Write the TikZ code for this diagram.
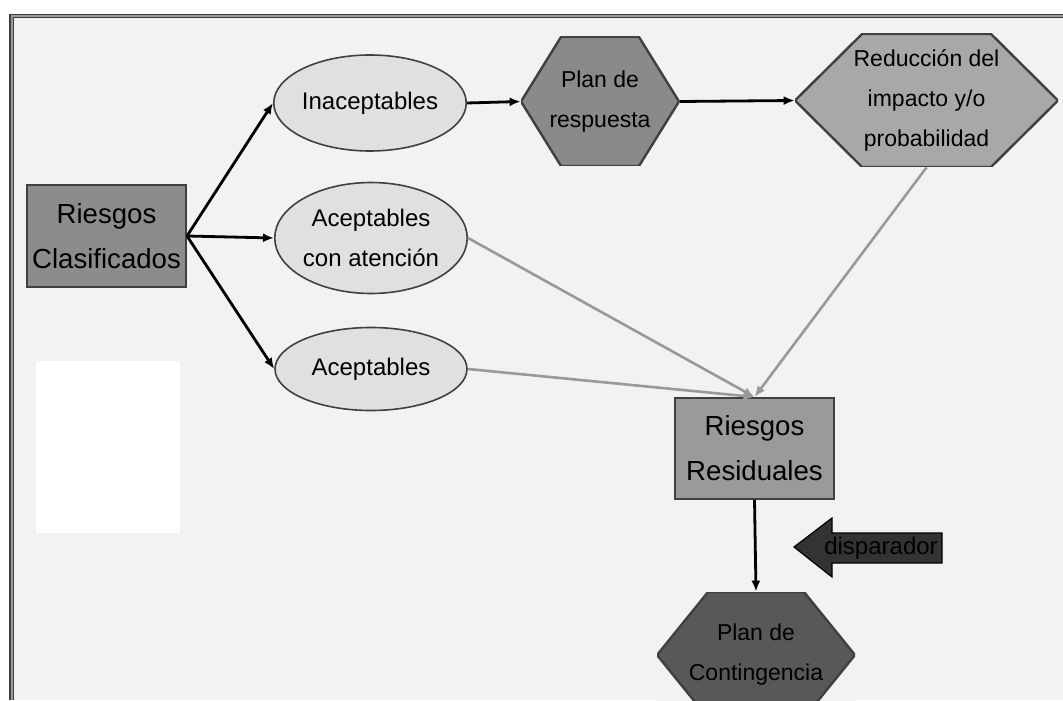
\documentclass[tikz,border=0pt]{standalone}
\usepackage{fontspec}
\setmainfont{Liberation Sans}
\usetikzlibrary{arrows.meta,shapes.geometric}

\definecolor{bgfill}{HTML}{F2F2F2}
\definecolor{edgecol}{HTML}{404040}
\definecolor{ovalfill}{HTML}{E0E0E0}
\definecolor{clasfill}{HTML}{8C8C8C}
\definecolor{planfill}{HTML}{8A8A8A}
\definecolor{reducfill}{HTML}{A8A8A8}
\definecolor{residfill}{HTML}{9A9A9A}
\definecolor{contfill}{HTML}{585858}
\definecolor{trigfill}{HTML}{333333}
\definecolor{linegray}{HTML}{999999}

\begin{document}
\begin{tikzpicture}[
  x=0.5pt,y=-0.5pt,
  box/.style={draw=edgecol,line width=1pt,minimum width=79.5pt,minimum height=51pt,
    inner sep=2pt,align=center,font=\fontsize{13.8}{22.5}\selectfont},
  oval/.style={ellipse,draw=edgecol,line width=0.8pt,fill=ovalfill,minimum width=96pt,
    inner sep=0pt,align=center,font=\fontsize{12}{20}\selectfont},
  hexa/.style 2 args={fill=bgfill,inner sep=0pt,align=center,font=\fontsize{11.5}{20}\selectfont,
    path picture={\filldraw[draw=edgecol,line width=1.2pt,fill=#2]
      (path picture bounding box.west)
      -- ([xshift=#1]path picture bounding box.north west)
      -- ([xshift=-#1]path picture bounding box.north east)
      -- (path picture bounding box.east)
      -- ([xshift=-#1]path picture bounding box.south east)
      -- ([xshift=#1]path picture bounding box.south west) -- cycle;}},
  link/.style={-{Latex[length=5.5pt,width=4.5pt]},line width=1.4pt},
  faint/.style={-{Latex[length=5.5pt,width=4.5pt]},line width=1.3pt,draw=linegray}
]
  \useasboundingbox (0,0) rectangle (1063,700);
  \clip (0,0) rectangle (1063,700);
  \fill[white] (0,0) rectangle (1063,700);
  \fill[bgfill] (11,16) rectangle (1063,700);
  \fill[white] (36,361) rectangle (180,533);
  \draw[draw=black!75,line width=0.7pt,double=black!40,double distance=1pt]
    (11.5,700) -- (11.5,16) -- (1063,16);

  \node[box,fill=clasfill] (riesgos-clasificados) at (106.5,236) {Riesgos\\Clasificados};

  \node[oval,minimum height=48pt] (inaceptables) at (370,103) {Inaceptables};
  \node[oval,minimum height=55.5pt] (aceptables-atencion) at (371,238) {Aceptables\\con atención};
  \node[oval,minimum height=41.5pt] (aceptables) at (371,369) {Aceptables};

  \node[hexa={20pt}{planfill},minimum width=79pt,minimum height=64.5pt]
    (plan-respuesta) at (600,101.5) {Plan de\\respuesta};
  \node[hexa={33.5pt}{reducfill},minimum width=131.5pt,minimum height=66.5pt]
    (reduccion) at (926.5,100.5) {Reducción del\\impacto y/o\\probabilidad};

  \node[box,fill=residfill,minimum height=50.5pt] (riesgos-residuales) at (754.5,448.5) {Riesgos\\Residuales};
  \node[hexa={25.5pt}{contfill},minimum width=99pt,minimum height=63pt]
    (plan-contingencia) at (756,655) {Plan de\\Contingencia};

  \filldraw[draw=black,fill=trigfill,line width=0.6pt]
    (794,547) -- (832,518) -- (832,533) -- (942,533) -- (942,563) -- (832,563) -- (832,577) -- cycle;
  \node[inner sep=0pt,font=\fontsize{12}{14}\selectfont] (disparador) at (881,548) {disparador};

  \draw[link] (riesgos-clasificados.east) -- (inaceptables.west);
  \draw[link] (riesgos-clasificados.east) -- (aceptables-atencion.west);
  \draw[link] (riesgos-clasificados.east) -- (aceptables.west);
  \draw[link] (inaceptables.east) -- (plan-respuesta.west);
  \draw[link] (plan-respuesta.east) -- (reduccion.west);
  \draw[faint] (aceptables-atencion.east) -- (riesgos-residuales.north);
  \draw[faint] (aceptables.east) -- (riesgos-residuales.north);
  \draw[faint] (reduccion.south) -- (riesgos-residuales.north);
  \draw[link] (riesgos-residuales.south) -- (plan-contingencia.north);
\end{tikzpicture}
\end{document}
